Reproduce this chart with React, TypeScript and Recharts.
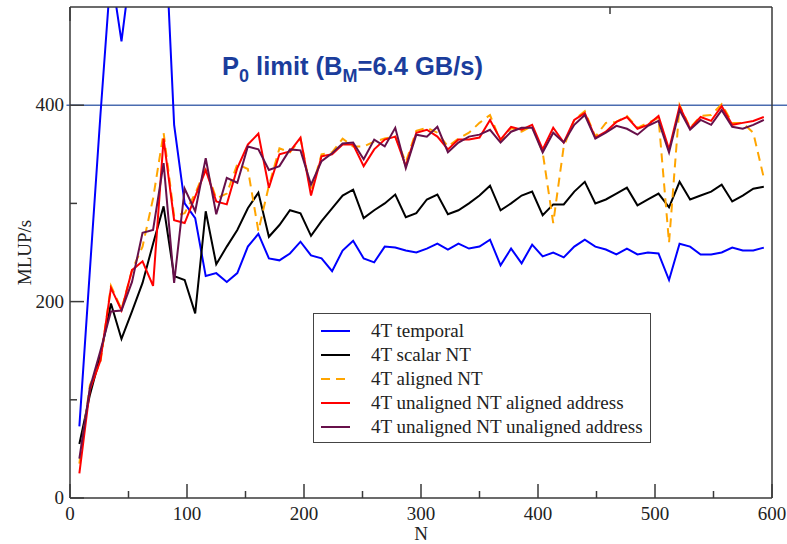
import { LineChart, Line, XAxis, YAxis, ReferenceLine } from "recharts"

// problem size N (one point every 9)
const nValues = [
  8, 17, 26, 35, 44, 53, 62, 71, 80, 89, 98, 107, 116, 125, 134, 143, 152, 161, 170, 179, 188, 197,
  206, 215, 224, 233, 242, 251, 260, 269, 278, 287, 296, 305, 314, 323, 332, 341, 350, 359, 368, 377,
  386, 395, 404, 413, 422, 431, 440, 449, 458, 467, 476, 485, 494, 503, 512, 521, 530, 539, 548, 557,
  566, 575, 584, 593,
]

const temporal = [
  73, 232, 390, 537, 465, 550, 620, 640, 612, 380, 300, 285, 226, 229, 220, 229, 256, 269, 244, 242, 249, 261,
  247, 244, 231, 252, 262, 244, 240, 256, 255, 252, 250, 254, 259, 253, 259, 254, 256, 263, 237, 254,
  239, 258, 246, 250, 245, 256, 263, 256, 253, 248, 254, 248, 250, 249, 222, 259, 256, 248, 248, 250,
  255, 252, 252, 255,
]

const scalarNT = [
  55, 105, 145, 198, 162, 190, 219, 259, 297, 226, 222, 188, 292, 238, 256, 273, 295, 311, 266, 278, 293, 290,
  267, 282, 295, 308, 314, 285, 293, 300, 309, 286, 290, 304, 309, 289, 293, 300, 308, 318, 293, 300,
  308, 312, 288, 299, 299, 312, 322, 300, 304, 310, 316, 298, 304, 310, 296, 322, 304, 308, 312, 319,
  302, 308, 315, 317,
]

const alignedNT = [
  35, 115, 138, 216, 192, 232, 256, 305, 372, 287, 290, 310, 336, 305, 310, 340, 335, 272, 318, 356, 352, 366,
  312, 350, 352, 366, 358, 358, 363, 366, 368, 342, 374, 377, 372, 358, 366, 372, 382, 390, 363, 377,
  373, 379, 352, 280, 358, 385, 394, 368, 382, 383, 389, 377, 382, 387, 260, 400, 377, 389, 390, 401,
  382, 382, 372, 326,
]

const unalignedAligned = [
  25, 110, 140, 214, 191, 232, 241, 216, 366, 283, 280, 307, 334, 302, 299, 336, 360, 371, 316, 350, 353, 367,
  308, 348, 350, 360, 360, 338, 355, 365, 368, 338, 372, 375, 368, 355, 365, 365, 367, 385, 365, 378,
  375, 380, 355, 377, 362, 385, 392, 367, 373, 383, 388, 376, 380, 389, 355, 399, 376, 388, 384, 399,
  380, 382, 384, 388,
]

const unalignedUnaligned = [
  40, 112, 150, 190, 191, 220, 270, 273, 341, 219, 315, 292, 346, 289, 326, 321, 358, 355, 334, 338, 355, 354,
  319, 343, 351, 361, 362, 345, 365, 358, 377, 336, 370, 368, 378, 352, 362, 368, 370, 375, 362, 373,
  377, 377, 352, 372, 362, 380, 390, 366, 372, 379, 376, 370, 379, 384, 352, 395, 375, 385, 380, 395,
  378, 376, 380, 385,
]

const xTicks = [0, 50, 100, 150, 200, 250, 300, 350, 400, 450, 500, 550, 600]
const yTicks = [0, 100, 200, 300, 400]

const data = nValues.map((n, i) => ({
  n,
  temporal: temporal[i],
  scalar: scalarNT[i],
  aligned: alignedNT[i],
  unalAl: unalignedAligned[i],
  unalUn: unalignedUnaligned[i],
}))

const series = [
  { key: "temporal", name: "4T temporal", color: "#0000ff" },
  { key: "scalar", name: "4T scalar NT", color: "#000000" },
  { key: "aligned", name: "4T aligned NT", color: "#ffa500", dash: "9 6" },
  { key: "unalAl", name: "4T unaligned NT aligned address", color: "#ff0000" },
  { key: "unalUn", name: "4T unaligned NT unaligned address", color: "#67104a" },
]

const AXIS = "#3a3a3a"
const SERIF = "'Liberation Serif', 'Times New Roman', serif"
const textStyle = { fontFamily: SERIF, fontSize: 19 }

function BottomTick({ x, y, payload }: any) {
  const major = payload.value % 100 === 0
  return (
    <g>
      <line x1={x} y1={y} x2={x} y2={y - (major ? 14 : 7)} stroke={AXIS} strokeWidth={1.5} />
      {major && (
        <text x={x} y={y + 22} textAnchor="middle" fill="#222" style={textStyle}>
          {payload.value}
        </text>
      )}
    </g>
  )
}

function TopTick({ x, y, payload }: any) {
  const major = payload.value % 100 === 0
  return <line x1={x} y1={y} x2={x} y2={y + (major ? 14 : 7)} stroke={AXIS} strokeWidth={1.5} />
}

function LeftTick({ x, y, payload }: any) {
  const major = payload.value % 200 === 0
  return (
    <g>
      <line x1={x} y1={y} x2={x + (major ? 14 : 7)} y2={y} stroke={AXIS} strokeWidth={1.5} />
      {major && (
        <text x={x - 6} y={y + 6} textAnchor="end" fill="#222" style={textStyle}>
          {payload.value}
        </text>
      )}
    </g>
  )
}

function RightTick({ x, y, payload }: any) {
  const major = payload.value % 200 === 0
  return <line x1={x} y1={y} x2={x - (major ? 14 : 7)} y2={y} stroke={AXIS} strokeWidth={1.5} />
}

function LegendBox() {
  return (
    <div
      style={{
        position: "absolute",
        left: 313,
        top: 313,
        width: 338,
        height: 130,
        border: "1.5px solid #444",
        background: "#fff",
        boxSizing: "border-box",
        paddingTop: 5,
      }}
    >
      {series.map((s) => (
        <div key={s.key} style={{ display: "flex", alignItems: "center", height: 24 }}>
          <svg width={50} height={10} style={{ marginLeft: 7 }}>
            <line x1={0} y1={5} x2={29} y2={5} stroke={s.color} strokeWidth={2} strokeDasharray={s.dash} />
          </svg>
          <span style={{ fontFamily: SERIF, fontSize: 19, color: "#222", lineHeight: "24px" }}>{s.name}</span>
        </div>
      ))}
    </div>
  )
}

export default function App() {
  return (
    <div style={{ position: "absolute", left: 0, top: 0, width: 787, height: 544, background: "#fff" }}>
      <LineChart width={787} height={544} data={data} margin={{ top: 0, right: 0, bottom: 0, left: 0 }}>
        <XAxis
          dataKey="n"
          type="number"
          domain={[0, 600]}
          ticks={xTicks}
          interval={0}
          height={46}
          tickSize={0}
          tickMargin={0}
          tick={(p: any) => <BottomTick {...p} />}
          axisLine={{ stroke: AXIS, strokeWidth: 1.5 }}
          allowDataOverflow
          label={{ value: "N", position: "insideBottom", offset: 4, fill: "#222", style: textStyle }}
        />
        <XAxis
          xAxisId="top"
          orientation="top"
          type="number"
          domain={[0, 600]}
          ticks={xTicks}
          interval={0}
          height={7}
          tickSize={0}
          tickMargin={0}
          tick={(p: any) => <TopTick {...p} />}
          axisLine={{ stroke: AXIS, strokeWidth: 1.5 }}
        />
        <YAxis
          type="number"
          domain={[0, 500]}
          ticks={yTicks}
          interval={0}
          width={70}
          tickSize={0}
          tickMargin={0}
          tick={(p: any) => <LeftTick {...p} />}
          axisLine={{ stroke: AXIS, strokeWidth: 1.5 }}
          allowDataOverflow
          label={{
            value: "MLUP/s",
            angle: -90,
            position: "insideLeft",
            offset: 24,
            fill: "#222",
            style: { ...textStyle, textAnchor: "middle" },
          }}
        />
        <YAxis
          yAxisId="right"
          orientation="right"
          type="number"
          domain={[0, 500]}
          ticks={yTicks}
          interval={0}
          width={15}
          tickSize={0}
          tickMargin={0}
          tick={(p: any) => <RightTick {...p} />}
          axisLine={{ stroke: AXIS, strokeWidth: 1.5 }}
        />
        <ReferenceLine
          segment={[
            { x: -3, y: 400 },
            { x: 614, y: 400 },
          ]}
          stroke="#4a6cb0"
          strokeWidth={1.5}
          ifOverflow="visible"
        />
        {series.map((s) => (
          <Line
            key={s.key}
            type="linear"
            dataKey={s.key}
            name={s.name}
            stroke={s.color}
            strokeWidth={2}
            strokeDasharray={s.dash}
            dot={false}
            isAnimationActive={false}
          />
        ))}
      </LineChart>
      <LegendBox />
      <div
        style={{
          position: "absolute",
          left: 222,
          top: 54,
          fontFamily: "'Liberation Sans', Arial, sans-serif",
          fontWeight: "bold",
          fontSize: 25.5,
          lineHeight: "25px",
          color: "#1b3d9c",
          whiteSpace: "nowrap",
        }}
      >
        P<span style={{ fontSize: 18, position: "relative", top: 7 }}>0</span> limit (B
        <span style={{ fontSize: 18, position: "relative", top: 7 }}>M</span>=6.4 GB/s)
      </div>
    </div>
  )
}
